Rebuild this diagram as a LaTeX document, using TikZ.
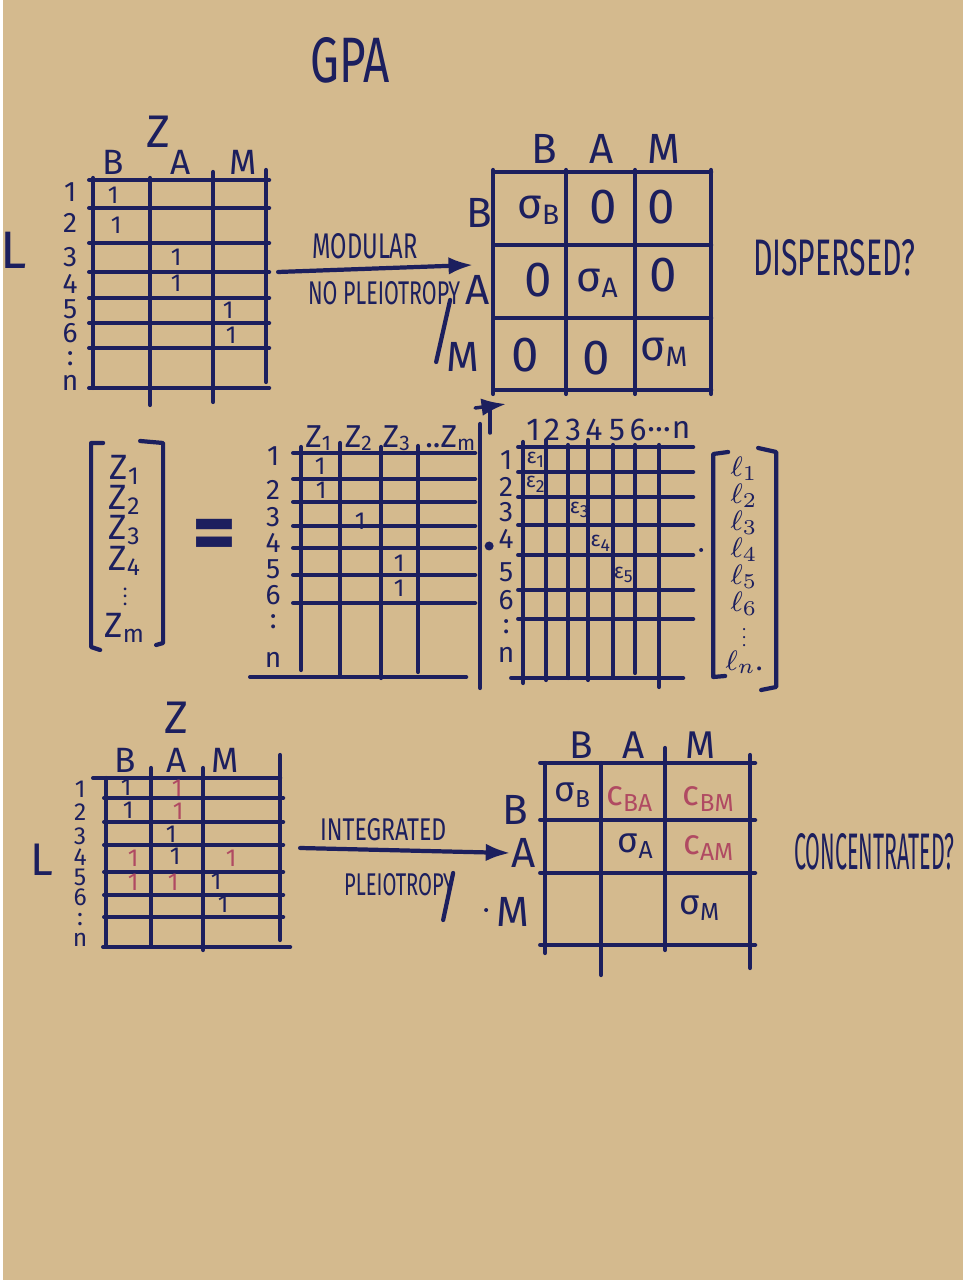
\documentclass[tikz,border=0pt]{standalone}
\usepackage{fontspec}
\setmainfont{Fira Sans}
\usepackage{graphicx}
\usepackage{amsmath}
\usetikzlibrary{arrows.meta}
\definecolor{gp-paper}{HTML}{D4BA8E}
\definecolor{gp-ink}{HTML}{1C1F5E}
\definecolor{gp-red}{HTML}{B04A62}
% squeeze a hand-lettered word into the box it takes on the sheet
\newcommand{\hand}[3]{\resizebox{#1}{#2}{#3}}
% short vertical dots for the vectors
\newcommand{\vdt}{\scalebox{0.55}{$\vdots$}}

\begin{document}
\begin{tikzpicture}[
    x=0.01cm, y=-0.01cm,
    >={Latex[length=7pt,width=5pt]},
    % pen strokes and lettering
    ink/.style={draw=gp-ink, line width=1.2pt, line cap=round, line join=round},
    lbl/.style={font=\fontsize{10}{11}\selectfont, text=gp-ink, inner sep=0pt},
    rowlbl/.style={font=\fontsize{8}{9}\selectfont, text=gp-ink, inner sep=0pt},
    one/.style={font=\fontsize{7}{8}\selectfont, text=gp-ink, inner sep=0pt},
    redone/.style={one, text=gp-red},
    entry/.style={font=\fontsize{14}{15}\selectfont, text=gp-ink, inner sep=0pt},
    sig/.style={font=\fontsize{12}{13}\selectfont, text=gp-ink, inner sep=0pt},
    small entry/.style={font=\fontsize{10}{11}\selectfont, text=gp-ink, inner sep=0pt},
    title/.style={font=\fontsize{13}{14}\selectfont, text=gp-ink, inner sep=0pt}
  ]

  \fill[gp-paper] (0,0) rectangle (960,1280);

  \node[title] (gpa) at (347,60) {\hand{0.79cm}{0.45cm}{GPA}};

  % =========================================================================
  % MODULAR: Z (loci x traits) -> diagonal covariance
  % =========================================================================
  \node[title] (zt-name) at (155,132) {Z};
  \node[title, font=\fontsize{15}{16}\selectfont] (zt-L) at (10,250) {L};
  \foreach \y in {180,208,243,272,298,323,348,388} \draw[ink] (86,\y) -- (266,\y);
  \foreach \x/\a/\b in {90/178/388,147/178/405,210/172/402,263/170/382} \draw[ink] (\x,\a) -- (\x,\b);
  \foreach \t/\x in {B/110,A/177,M/240} \node[lbl] (zt-c\t) at (\x,162) {\t};
  \foreach \t/\y [count=\i] in {1/192,2/223,3/257,4/284,5/309,6/333,:/359,n/383}
    \node[rowlbl] (zt-r\i) at (67,\y) {\t};
  \node[one] (zt-11) at (110,195) {1};
  \node[one] (zt-21) at (113,225) {1};
  \node[one] (zt-32) at (173,257) {1};
  \node[one] (zt-42) at (173,283) {1};
  \node[one] (zt-53) at (225,310) {1};
  \node[one] (zt-63) at (228,335) {1};

  \coordinate (mod-from) at (275,272);
  \coordinate (mod-to) at (470,265);
  \draw[ink, ->] (mod-from) -- (mod-to);
  \node[lbl] (mod-up) at (362,246) {\hand{1.05cm}{0.25cm}{MODULAR}};
  \node[lbl] (mod-down) at (381,293) {\hand{1.52cm}{0.23cm}{NO PLEIOTROPY}};
  \draw[ink] (447,300) -- (433,362);

  % diagonal matrix
  \foreach \y in {172,245,318,390} \draw[ink] (490,\y) -- (708,\y);
  \foreach \x in {490,563,632,708} \draw[ink] (\x,170) -- (\x,394);
  \foreach \t/\x in {B/541,A/598,M/661} \node[lbl, font=\fontsize{12}{13}\selectfont] (mt-c\t) at (\x,149) {\t};
  \foreach \t/\x/\y in {B/476/213,A/474/290,M/460/357} \node[lbl, font=\fontsize{12}{13}\selectfont] (mt-r\t) at (\x,\y) {\t};
  \node[sig] (mt-BB) at (536,210) {σ\textsubscript{B}};
  \node[entry] (mt-BA) at (600,207) {0};
  \node[entry] (mt-BM) at (658,207) {0};
  \node[entry] (mt-AB) at (535,280) {0};
  \node[sig] (mt-AA) at (595,283) {σ\textsubscript{A}};
  \node[entry] (mt-AM) at (660,275) {0};
  \node[entry] (mt-MB) at (522,355) {0};
  \node[entry] (mt-MA) at (593,358) {0};
  \node[sig] (mt-MM) at (662,352) {σ\textsubscript{M}};
  \node[lbl] (disp) at (831,258) {\hand{1.62cm}{0.36cm}{DISPERSED?}};

  \draw[ink, ->, line width=1pt] (472,408) -- (503,404);
  \draw[ink, line width=1pt] (487,408) -- (487,433);

  % =========================================================================
  % Z = X . E . l
  % =========================================================================
  \draw[ink] (100,443) -- (88,443) -- (88,647) -- (97,650);
  \draw[ink] (137,441) -- (160,443) -- (160,643) -- (153,645);
  \foreach \t/\y [count=\i] in {Z\textsubscript{1}/470,Z\textsubscript{2}/500,Z\textsubscript{3}/530,Z\textsubscript{4}/561,\vdt/591,Z\textsubscript{m}/628}
    \node[lbl] (zv-\i) at (122,\y) {\t};
  \node[lbl] (eq) at (211,540) {\hand{0.44cm}{!}{\bfseries =}};

  % loci x traits
  \foreach \y in {453,479,502,526,548,575,603} \draw[ink] (290,\y) -- (472,\y);
  \draw[ink] (247,677) -- (463,677);
  \foreach \x/\a/\b in {298/447/670,337/443/675,378/447/678,415/446/672,477/424/688} \draw[ink] (\x,\a) -- (\x,\b);
  \foreach \t/\x [count=\i] in {Z\textsubscript{1}/316,Z\textsubscript{2}/356,Z\textsubscript{3}/394,..Z\textsubscript{m}/448}
    \node[lbl, font=\fontsize{9}{10}\selectfont] (zx-c\i) at (\x,438) {\t};
  \foreach \t/\y [count=\i] in {1/456,2/490,3/517,4/543,5/569,6/595,:/622,n/660}
    \node[rowlbl] (zx-r\i) at (270,\y) {\t};
  \node[one] (zx-11) at (317,466) {1};
  \node[one] (zx-21) at (318,490) {1};
  \node[one] (zx-32) at (357,521) {1};
  \node[one] (zx-53) at (396,563) {1};
  \node[one] (zx-63) at (396,588) {1};
  \fill[gp-ink] (486,546) circle (4.5);

  % loci x loci effects
  \foreach \y in {447,472,497,525,555,590,619} \draw[ink] (515,\y) -- (690,\y);
  \draw[ink] (508,678) -- (680,678);
  \foreach \x/\a/\b in {520/442/683,543/440/680,565/445/678,585/440/680,610/445/676,632/445/673,656/445/687} \draw[ink] (\x,\a) -- (\x,\b);
  \foreach \t/\x [count=\i] in {1/530,2/549,3/570,4/591,5/614,6/635,…/656,n/678}
    \node[rowlbl, font=\fontsize{9}{10}\selectfont] (ex-c\i) at (\x,430) {\t};
  \foreach \t/\y [count=\i] in {1/460,2/487,3/512,4/539,5/572,6/600,:/627,n/655}
    \node[rowlbl] (ex-r\i) at (503,\y) {\t};
  \foreach \k/\x/\y in {1/533/460,2/533/484,3/577/510,4/598/543,5/621/575}
    \node[one, font=\fontsize{6}{7}\selectfont] (ex-e\k) at (\x,\y) {ε\textsubscript{\k}};
  \fill[gp-ink] (698,550) circle (2);

  % allele vector
  \draw[ink] (725,452) -- (710,454) -- (710,677) -- (722,676);
  \draw[ink] (755,448) -- (773,452) -- (773,687) -- (758,690);
  \foreach \t/\y [count=\i] in {$\ell_1$/469,$\ell_2$/496,$\ell_3$/523,$\ell_4$/550,$\ell_5$/577,$\ell_6$/604,\vdt/632,{$\ell_n$.}/662}
    \node[lbl, font=\fontsize{8}{9}\selectfont] (lv-\i) at (741,\y) {\t};

  % =========================================================================
  % INTEGRATED: pleiotropic loci -> full covariance
  % =========================================================================
  \node[title] (zb-name) at (173,718) {Z};
  \node[title] (zb-L) at (39,860) {L};
  \draw[ink] (90,778) -- (277,778);
  \foreach \y in {798,822,845,872,895,917} \draw[ink] (101,\y) -- (280,\y);
  \draw[ink] (100,947) -- (287,947);
  \foreach \x/\a/\b in {103/778/945,148/768/945,200/768/950,277/755/940} \draw[ink] (\x,\a) -- (\x,\b);
  \foreach \t/\x in {B/122,A/173,M/222} \node[lbl] (zb-c\t) at (\x,760) {\t};
  \foreach \t/\y [count=\i] in {1/789,2/812,3/836,4/857,5/877,6/897,:/920,n/940}
    \node[rowlbl, font=\fontsize{7}{8}\selectfont] (zb-r\i) at (77,\y) {\t};
  \node[one] (zb-11) at (123,787) {1};
  \node[one] (zb-21) at (125,810) {1};
  \node[one] (zb-32) at (168,834) {1};
  \node[one] (zb-42) at (172,856) {1};
  \node[one] (zb-53) at (213,881) {1};
  \node[one] (zb-63) at (220,904) {1};
  \node[redone] (zb-12) at (174,788) {1};
  \node[redone] (zb-22) at (175,811) {1};
  \node[redone] (zb-41) at (130,858) {1};
  \node[redone] (zb-43) at (228,858) {1};
  \node[redone] (zb-51) at (130,882) {1};
  \node[redone] (zb-52) at (170,882) {1};

  % full matrix
  \foreach \t/\x in {B/578,A/630,M/697} \node[lbl, font=\fontsize{11}{12}\selectfont] (mb-c\t) at (\x,745) {\t};
  \node[lbl, font=\fontsize{12}{13}\selectfont] (mb-rB) at (512,810) {B};
  \node[lbl, font=\fontsize{12}{13}\selectfont] (mb-rA) at (520,853) {A};
  \node[lbl, font=\fontsize{12}{13}\selectfont] (mb-rM) at (510,912) {M};
  \foreach \y in {763,820,873,945} \draw[ink] (537,\y) -- (752,\y);
  \foreach \x/\a/\b in {542/763/953,598/763/975,662/748/950,747/755/968} \draw[ink] (\x,\a) -- (\x,\b);
  \node[small entry] (mb-BB) at (570,795) {σ\textsubscript{B}};
  \node[small entry, text=gp-red] (mb-BA) at (627,799) {c\textsubscript{BA}};
  \node[small entry, text=gp-red] (mb-BM) at (706,799) {c\textsubscript{BM}};
  \node[small entry] (mb-AA) at (633,846) {σ\textsubscript{A}};
  \node[small entry, text=gp-red] (mb-AM) at (706,848) {c\textsubscript{AM}};
  \node[small entry] (mb-MM) at (697,908) {σ\textsubscript{M}};

  \coordinate (int-from) at (297,848);
  \draw[ink, ->] (int-from) -- (mb-rA.west);
  \node[lbl] (int-up) at (380,830) {\hand{1.26cm}{0.22cm}{INTEGRATED}};
  \node[lbl] (int-down) at (396,885) {\hand{1.1cm}{0.22cm}{PLEIOTROPY}};
  \draw[ink] (450,873) -- (440,920);
  \fill[gp-ink] (483,910) circle (2);
  \node[lbl] (conc) at (871,852) {\hand{1.6cm}{0.36cm}{CONCENTRATED?}};

\end{tikzpicture}
\end{document}
